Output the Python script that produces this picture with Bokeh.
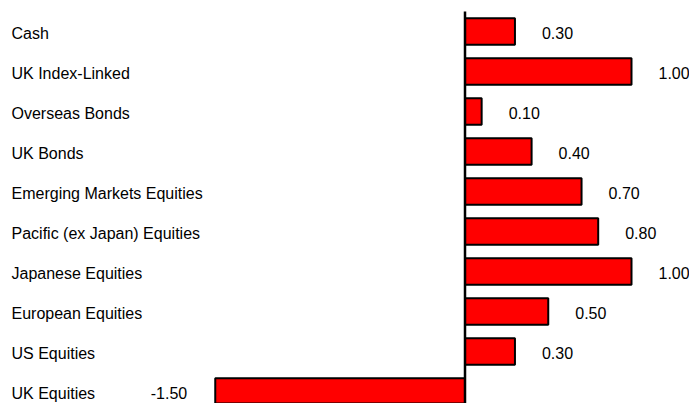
from bokeh.plotting import figure
from bokeh.models import ColumnDataSource, LabelSet, Range1d
from bokeh.core.properties import value
from bokeh.embed import file_html
from bokeh.resources import INLINE

categories = ["Cash", "UK Index-Linked", "Overseas Bonds", "UK Bonds",
              "Emerging Markets Equities", "Pacific (ex Japan) Equities",
              "Japanese Equities", "European Equities", "US Equities", "UK Equities"]
values = [0.30, 1.00, 0.10, 0.40, 0.70, 0.80, 1.00, 0.50, 0.30, -1.50]

n = len(categories)
ypos = [n - 1 - i for i in range(n)]
labels = ["%.2f" % v for v in values]
offsets = [27 if v >= 0 else -28 for v in values]
aligns = ["left" if v >= 0 else "right" for v in values]

src = ColumnDataSource(dict(y=ypos, v=values, cat=categories, lab=labels,
                            off=offsets, al=aligns))

W, H = 689, 403
zero_px = 464.5
unit = 166.5
p = figure(width=W, height=H, output_backend="svg", toolbar_location=None,
           x_axis_type=None, y_axis_type=None, min_border=0,
           x_range=Range1d(-zero_px / unit, (W - zero_px) / unit),
           y_range=Range1d(-0.3, n - 1 + 31 / 40))
p.outline_line_color = None
p.grid.visible = False

p.hbar(y="y", left=0, right="v", height=0.66, source=src,
       fill_color="#ff0000", line_color="black", line_width=2)
p.segment(x0=0, y0=-0.5, x1=0, y1=n - 0.5, line_color="black", line_width=2.5)

font = value("Liberation Sans")
cat_labels = LabelSet(x=11, x_units="screen", y="y", y_offset=-1.5, text="cat",
                      source=src, text_font=font, text_font_size="16px",
                      text_color="black", text_align="left", text_baseline="middle")
val_labels = LabelSet(x="v", y="y", y_offset=-1.5, text="lab", x_offset="off",
                      text_align="al", source=src, text_font=font,
                      text_font_size="16px", text_color="black",
                      text_baseline="middle")
p.add_layout(cat_labels)
p.add_layout(val_labels)

open("out.html", "w").write(file_html(p, INLINE))
